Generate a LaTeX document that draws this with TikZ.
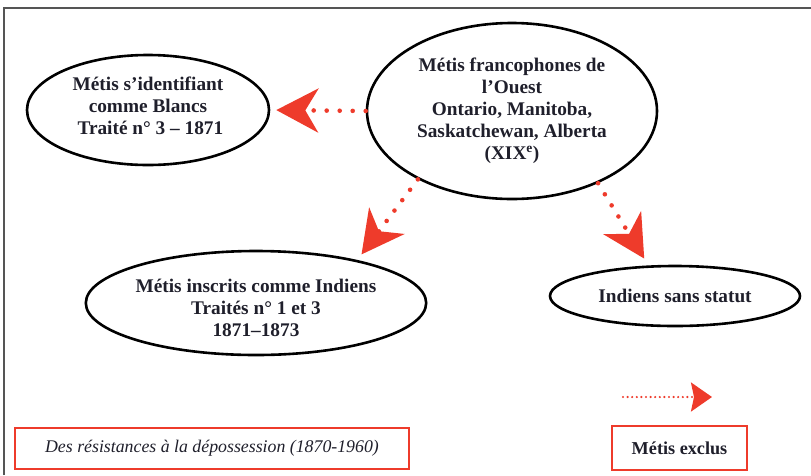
\documentclass[tikz,border=0pt]{standalone}
\usepackage{fontspec}
\setmainfont{Liberation Serif}
\usepackage{tikz}
\usetikzlibrary{arrows.meta,shapes.geometric}
\definecolor{exclred}{HTML}{EE3B2B}
\definecolor{inktext}{HTML}{1F1F2B}
\definecolor{framegray}{HTML}{555555}

\begin{document}
\begin{tikzpicture}[x=1pt, y=-1pt,
		groupe/.style={ellipse, draw=black, line width=2.6pt, inner sep=0pt, align=center,
			text=inktext, font=\fontsize{19.3}{22}\selectfont\bfseries},
		exclu/.style={exclred, line width=4.6pt, line cap=round, dash pattern=on 0pt off 13pt,
			-{Stealth[length=42pt, width=44pt, inset=13pt]}},
		cadre/.style={draw=exclred, line width=1.3pt, inner sep=0pt, text=inktext}]
		\useasboundingbox (0,0) rectangle (811,475);
		\draw[framegray, line width=1.6pt] (4,475) -- (4,8) -- (811,8);

		\node[groupe, minimum width=242pt, minimum height=110pt] (blancs) at (148,110)
			{M\'etis s’identifiant\\comme Blancs\\\ Trait\'e n° 3 -- 1871\\[-14pt]};
		\node[groupe, minimum width=290pt, minimum height=176pt] (ouest) at (512,111)
			{M\'etis francophones de\\l’Ouest\\Ontario, Manitoba,\\Saskatchewan, Alberta\\(XIX\textsuperscript{e})};
		\node[groupe, minimum width=336pt, minimum height=104pt] (inscrits) at (256,303)
			{\rule{0pt}{23pt}M\'etis inscrits comme Indiens\\Trait\'es n° 1 et 3\\1871--1873};
		\node[groupe, minimum width=250pt, minimum height=60pt] (sansstatut) at (675,296)
			{Indiens sans statut};

		\draw[exclu, shorten >=6pt] (ouest.west) -- (blancs.east);
		\draw[exclu, shorten >=7pt] (ouest.216) -- (inscrits.23);
		\draw[exclu, shorten >=8pt] (ouest.320) -- (sansstatut.131);

		% legende
		\coordinate (legA) at (623,397);
		\coordinate (legB) at (712,397);
		\draw[exclred, line width=2.4pt, line cap=round, dash pattern=on 0pt off 4.6pt,
			-{Stealth[length=21pt, width=29pt, inset=3pt]}] (legA) -- (legB);
		\node[cadre, minimum width=394pt, minimum height=41pt] (titre) at (212,448.5)
			{\fontsize{17.8}{20}\selectfont\itshape Des r\'esistances \`a la d\'epossession (1870-1960)};
		\node[cadre, minimum width=135pt, minimum height=44pt] (exclus) at (679.5,448)
			{\fontsize{18.2}{20}\selectfont\bfseries M\'etis exclus};
	\end{tikzpicture}
\end{document}
